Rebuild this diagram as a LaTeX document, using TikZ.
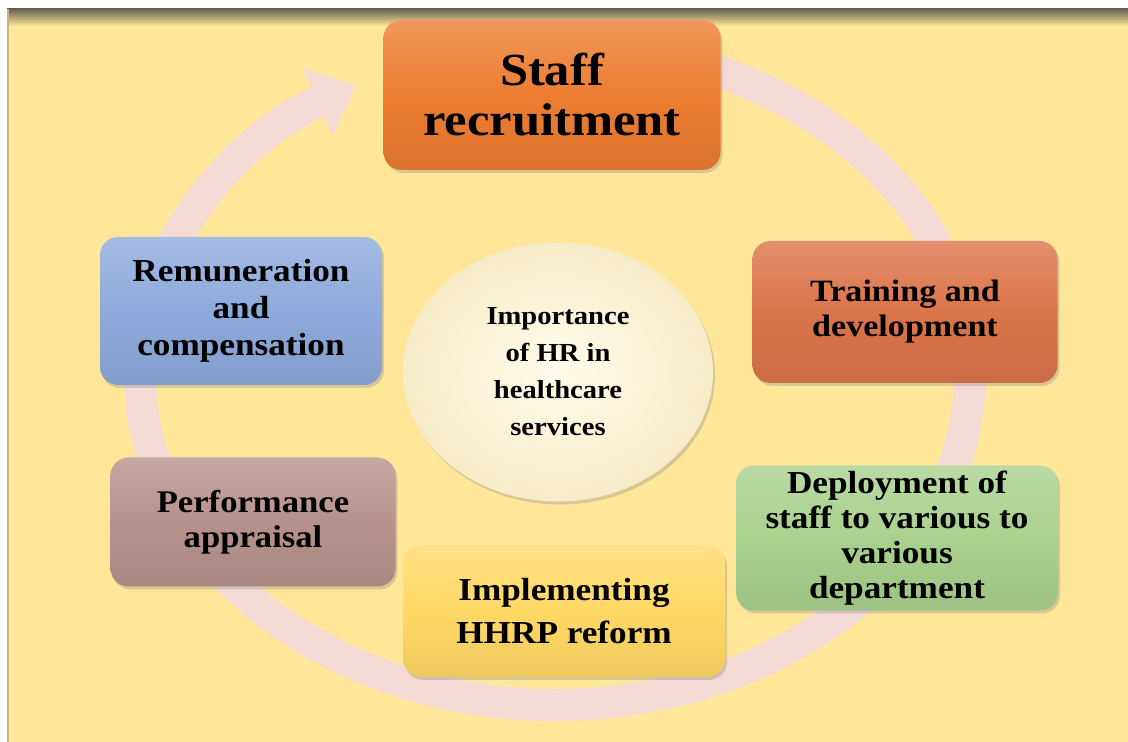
\documentclass[tikz,border=0pt]{standalone}
\usepackage{fontspec}
\setmainfont{Liberation Serif}
\newfontfamily\boxfont{Liberation Serif}[FakeStretch=1.1]
\usetikzlibrary{arrows.meta,positioning,shapes.geometric,shadows}

\definecolor{bgyellow}{RGB}{255,230,153}
\definecolor{rimdark}{RGB}{104,99,80}
\definecolor{ringpink}{RGB}{244,218,213}
\definecolor{staffor}{RGB}{237,125,49}
\definecolor{trainor}{RGB}{219,116,74}
\definecolor{remblue}{RGB}{142,170,219}
\definecolor{perfmauve}{RGB}{183,146,140}
\definecolor{implgold}{RGB}{255,217,102}
\definecolor{deplgreen}{RGB}{169,209,142}
\definecolor{hubcream}{RGB}{255,251,234}
\definecolor{hubrim}{RGB}{246,236,200}

\begin{document}
\begin{tikzpicture}[
        x=1pt, y=1pt,
        ringband/.style={line width=32pt, draw=ringpink},
        cyclebox/.style={rounded corners=18pt, align=center, inner sep=0pt,
            top color=#1!80!white, bottom color=#1!93!black, middle color=#1,
            drop shadow={shadow xshift=2pt, shadow yshift=-3pt, opacity=0.3}},
    ]
        % Page and frame
        \useasboundingbox (0,0) rectangle (1128,742);
        \fill[white] (0,0) rectangle (1128,742);
        \fill[bgyellow] (7,0) rectangle (1128,733);
        \shade[top color=rimdark, bottom color=bgyellow] (7,716) rectangle (1128,733);
        \fill[rimdark!35!bgyellow] (7,0) rectangle (9,733);

        % Ring around the hub
        \coordinate (ring) at (555,367);
        \coordinate (s1) at ([shift={(69:415 and 330)}]ring);
        \coordinate (s2) at ([shift={(11:415 and 330)}]ring);
        \coordinate (s3) at ([shift={(-29:415 and 330)}]ring);
        \coordinate (s4) at ([shift={(206:415 and 330)}]ring);
        \coordinate (s5) at ([shift={(169:415 and 330)}]ring);
        \draw[ringband] (s1) arc[start angle=69, end angle=11, x radius=415, y radius=330];
        \draw[ringband] (s2) arc[start angle=11, end angle=-29, x radius=415, y radius=330];
        \draw[ringband] (s3) arc[start angle=-29, end angle=-154, x radius=415, y radius=330];
        \draw[ringband] (s4) arc[start angle=206, end angle=169, x radius=415, y radius=330];
        \draw[ringband, -{Triangle[length=42pt, width=72pt]}] (s5)
            arc[start angle=169, end angle=118.6, x radius=415, y radius=330];

        % Hub
        \node[ellipse, minimum width=310pt, minimum height=259pt, inner sep=0pt,
            inner color=hubcream, outer color=hubrim,
            drop shadow={shadow xshift=2pt, shadow yshift=-3pt, opacity=0.3},
            align=center, font=\boxfont\bfseries\fontsize{26}{37}\selectfont]
            (hub) at (558,370) {Importance\\of HR in\\healthcare\\services};

        % Steps of the cycle
        \node[cyclebox=staffor, minimum width=337pt, minimum height=150pt,
            font=\boxfont\bfseries\fontsize{46}{50}\selectfont]
            (staff) at (552,647) {Staff\\recruitment};
        \node[cyclebox=trainor, minimum width=305pt, minimum height=142pt,
            font=\boxfont\bfseries\fontsize{31}{35}\selectfont]
            (train) at (905,430) {Training and\\development};
        \node[cyclebox=deplgreen, minimum width=322pt, minimum height=145pt,
            font=\boxfont\bfseries\fontsize{32}{35}\selectfont]
            (deploy) at (897,204) {Deployment of\\staff to various to\\various\\department};
        \node[cyclebox=implgold, minimum width=322pt, minimum height=132pt,
            font=\boxfont\bfseries\fontsize{32}{43}\selectfont]
            (impl) at (564,131) {Implementing\\HHRP reform};
        \node[cyclebox=perfmauve, minimum width=285pt, minimum height=129pt,
            font=\boxfont\bfseries\fontsize{31.5}{35}\selectfont]
            (perf) at (253,220) {Performance\\appraisal};
        \node[cyclebox=remblue, minimum width=282pt, minimum height=148pt,
            font=\boxfont\bfseries\fontsize{32}{37}\selectfont]
            (rem) at (241,431) {Remuneration\\and\\compensation};
    \end{tikzpicture}
\end{document}
